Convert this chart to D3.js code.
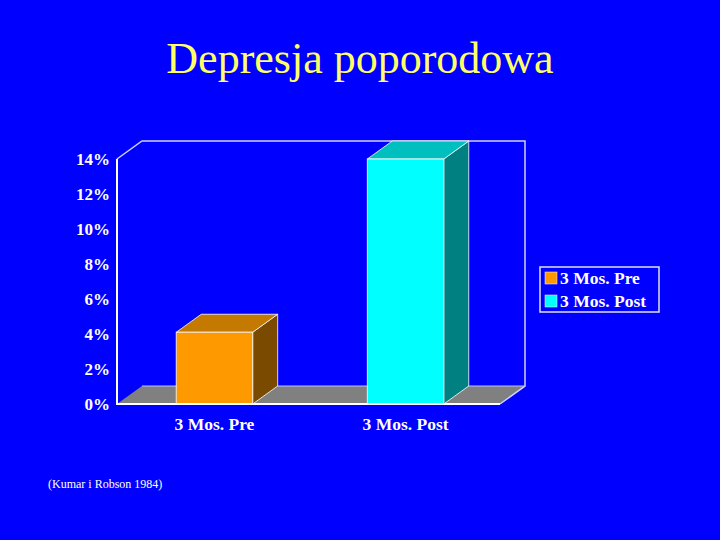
<!DOCTYPE html>
<html><head><meta charset="utf-8">
<script src="https://cdn.jsdelivr.net/npm/d3@7"></script>
<style>body{margin:0;background:#0000ff;} svg{display:block;}</style>
</head><body>
<script>
const categories = ["3 Mos. Pre", "3 Mos. Post"];
const values = [4.1, 14];
const tickValues = [0, 2, 4, 6, 8, 10, 12, 14];
const title = "Depresja poporodowa";
const source = "(Kumar i Robson 1984)";
const frontColors = ["#ff9900", "#00ffff"];
const topColors = ["#c47a00", "#00bfbf"];
const sideColors = ["#7a4a00", "#008080"];

const W = 720, H = 540;
const svg = d3.select("body").append("svg").attr("width", W).attr("height", H);
svg.append("rect").attr("width", W).attr("height", H).attr("fill", "#0000ff");

const pLeft = 117, pRight = 500, pTop = 159, pBottom = 404;
const dx = 25, dy = -18;
const y = d3.scaleLinear().domain([0, 14]).range([pBottom, pTop]);
const x = d3.scaleBand().domain(categories).range([pLeft, pRight + 3]).paddingInner(0.6).paddingOuter(0.31);

svg.append("text").attr("x", 360).attr("y", 73).attr("text-anchor", "middle")
  .attr("font-family", "Liberation Serif, Times New Roman, serif").attr("font-size", 44)
  .attr("fill", "#ffff66").text(title);

// floor
svg.append("path").attr("d", `M${pLeft},${pBottom}L${pLeft+dx},${pBottom+dy}L${pRight+dx},${pBottom+dy}L${pRight},${pBottom}Z`)
  .attr("fill", "#808080");
// back wall edges
const g = svg.append("g").attr("fill", "none").attr("stroke", "#ffffff").attr("stroke-width", 1.5);
g.append("path").attr("d", `M${pLeft},${pTop}L${pLeft+dx},${pTop+dy}L${pRight+dx},${pTop+dy}L${pRight+dx},${pBottom+dy}L${pRight},${pBottom}`).attr("stroke", "#d0d0ff");
g.append("path").attr("d", `M${pLeft+dx},${pBottom+dy}L${pRight+dx},${pBottom+dy}`).attr("stroke", "#c0c0ff").attr("stroke-width", 1);

// bars
categories.forEach((c, i) => {
  const x0 = x(c), x1 = x(c) + x.bandwidth(), yt = y(values[i]);
  const bg = svg.append("g").attr("stroke", "#ffffff").attr("stroke-width", 1).attr("stroke-opacity", 0.8);
  bg.append("path").attr("d", `M${x1},${pBottom}L${x1+dx},${pBottom+dy}L${x1+dx},${yt+dy}L${x1},${yt}Z`).attr("fill", sideColors[i]);
  bg.append("path").attr("d", `M${x0},${yt}L${x0+dx},${yt+dy}L${x1+dx},${yt+dy}L${x1},${yt}Z`).attr("fill", topColors[i]);
  bg.append("rect").attr("x", x0).attr("y", yt).attr("width", x1 - x0).attr("height", pBottom - yt).attr("fill", frontColors[i]);
});

// front axis lines
svg.append("path").attr("d", `M${pLeft},${pTop}L${pLeft},${pBottom}L${pRight},${pBottom}`).attr("fill", "none").attr("stroke", "#ffffff").attr("stroke-width", 2);

// y axis
const yAxis = d3.axisLeft(y).tickValues(tickValues).tickSize(0).tickPadding(7).tickFormat(d => d + "%");
const ya = svg.append("g").attr("transform", `translate(${pLeft},0)`).call(yAxis);
ya.select(".domain").remove();
ya.selectAll("text").attr("fill", "#ffffff").attr("font-family", "Liberation Serif, Times New Roman, serif")
  .attr("font-size", 17).attr("font-weight", "bold");

// x axis
const xAxis = d3.axisBottom(x).tickSize(0).tickPadding(14);
const xa = svg.append("g").attr("transform", `translate(0,${pBottom})`).call(xAxis);
xa.select(".domain").remove();
xa.selectAll("text").attr("fill", "#ffffff").attr("font-family", "Liberation Serif, Times New Roman, serif")
  .attr("font-size", 17.5).attr("font-weight", "bold");

// legend
const lg = svg.append("g").attr("transform", "translate(540,267)");
lg.append("rect").attr("width", 119).attr("height", 45).attr("fill", "none").attr("stroke", "#e0e0ff").attr("stroke-width", 1.5);
categories.forEach((c, i) => {
  lg.append("rect").attr("x", 5).attr("y", 5 + i * 23).attr("width", 12).attr("height", 12)
    .attr("fill", frontColors[i]).attr("stroke", "#ffffff").attr("stroke-width", 0.5);
  lg.append("text").attr("x", 20).attr("y", 17 + i * 23).attr("fill", "#ffffff")
    .attr("font-family", "Liberation Serif, Times New Roman, serif").attr("font-size", 17.5).attr("font-weight", "bold").text(c);
});

svg.append("text").attr("x", 48).attr("y", 488).attr("fill", "#ffffff")
  .attr("font-family", "Liberation Serif, Times New Roman, serif").attr("font-size", 12).text(source);
</script>
</body></html>
